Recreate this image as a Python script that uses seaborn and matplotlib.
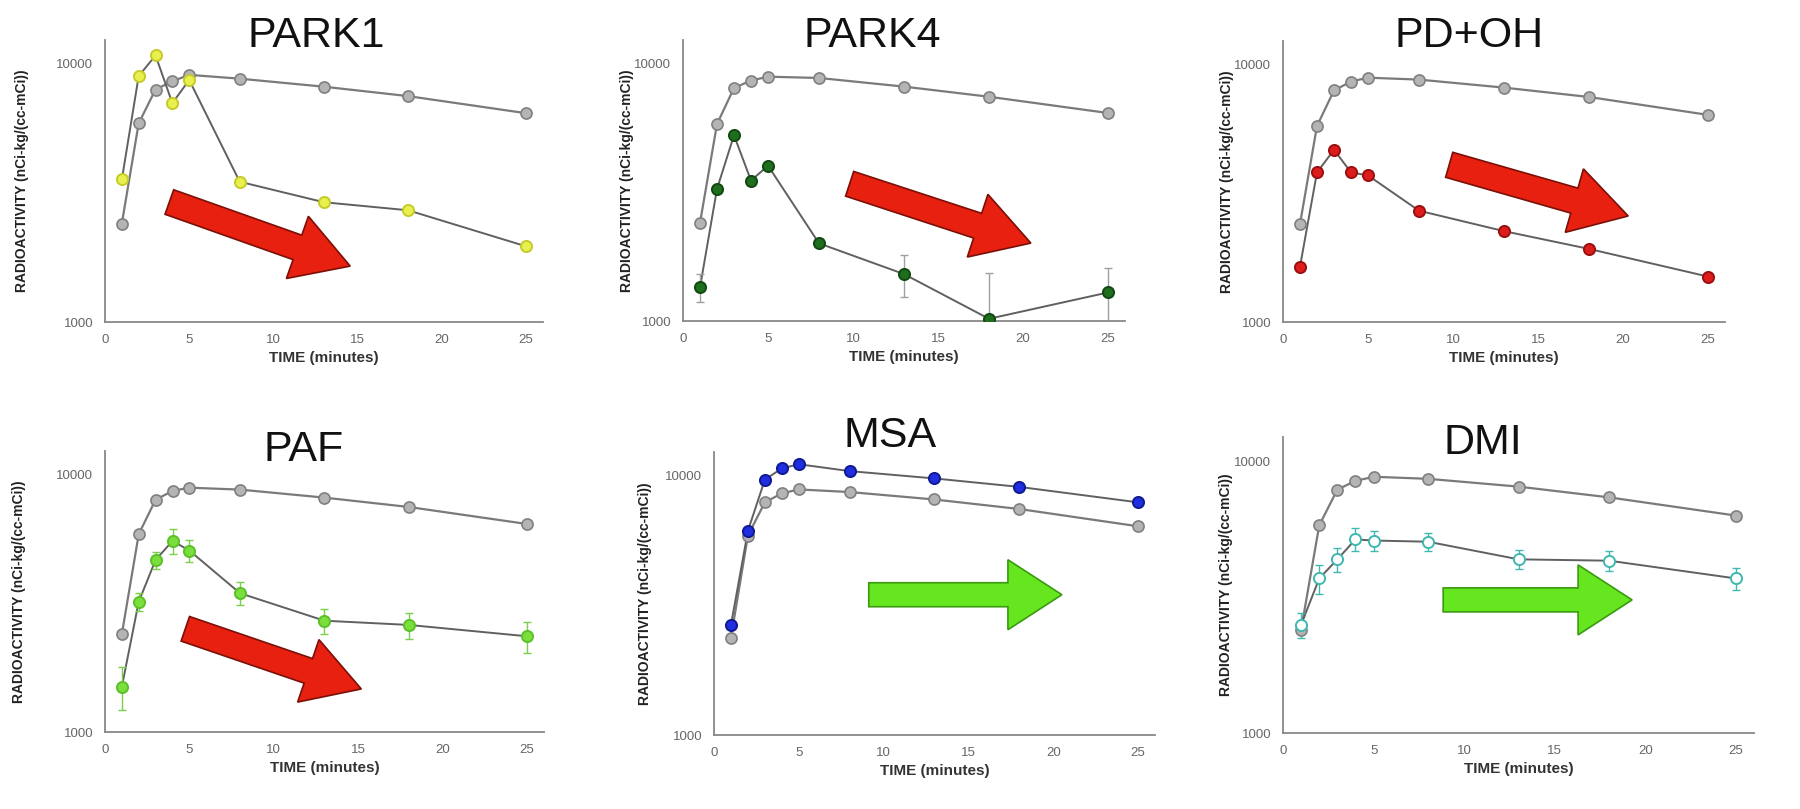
import matplotlib
matplotlib.use("Agg")
import matplotlib.pyplot as plt
import matplotlib.ticker as mticker
import matplotlib.transforms as mtransforms
from matplotlib.patches import FancyArrow
import pandas as pd
import seaborn as sns

# values (nCi-kg/(cc-mCi))
time_min = [1, 2, 3, 4, 5, 8, 13, 18, 25]

park1_control = [2400, 5850, 7900, 8500, 9000, 8700, 8100, 7450, 6400]
park1_patient = [3550, 8900, 10700, 7000, 8600, 3480, 2900, 2700, 1960]

park4_control = [2400, 5800, 8000, 8550, 8850, 8750, 8100, 7400, 6400]
park4_patient = [1350, 3250, 5250, 3500, 4000, 2000, 1520, 1020, 1290]
park4_err = [170, 0, 0, 0, 0, 0, 280, 520, 320]

pdoh_control = [2400, 5750, 7900, 8550, 8850, 8700, 8100, 7450, 6350]
pdoh_patient = [1640, 3800, 4650, 3800, 3700, 2700, 2250, 1920, 1500]

paf_control = [2400, 5850, 7950, 8600, 8850, 8700, 8100, 7450, 6400]
paf_patient = [1500, 3200, 4650, 5500, 5050, 3450, 2700, 2600, 2350]
paf_err = [280, 250, 350, 600, 500, 350, 300, 300, 330]

msa_control = [2370, 5850, 7850, 8500, 8800, 8600, 8050, 7400, 6350]
msa_patient = [2650, 6100, 9600, 10600, 11000, 10350, 9700, 9000, 7850]

dmi_control = [2400, 5800, 7850, 8450, 8750, 8600, 8050, 7350, 6300]
dmi_patient = [2500, 3700, 4350, 5150, 5100, 5050, 4350, 4300, 3700]
dmi_err = [260, 450, 450, 500, 450, 400, 350, 350, 350]

titles = ["PARK1", "PARK4", "PD+OH", "PAF", "MSA", "DMI"]

W, H = 1800, 809
fig = plt.figure(figsize=(W / 100, H / 100), dpi=100)
sns.set_theme(style="white")
plt.rcParams["font.family"] = ["Liberation Sans", "DejaVu Sans"]

Y_TOP = 12300
RED = ("#e8200f", "#7a1008")
GREEN = ("#66e61f", "#3a9a10")
RED_SIZE = (26, 66, 56)     # shaft, head width, head length (px)
GREEN_SIZE = (24, 70, 54)

# (px of x=0, px of x=25, x-axis px from top, px per decade), title px,
# y-label offset px, arrow tail/tip in axes fraction
panels = [
    dict(rect=(105, 526, 322, 259), tpos=(316, 36), ylab=76,
         control=park1_control, patient=park1_patient, err=None,
         face="#e8f050", edge="#c5cc2a", ecol=None,
         arrow=((0.147, 0.425), (0.56, 0.198)), acol=RED, aw=RED_SIZE),
    dict(rect=(683, 1108, 321, 258), tpos=(872, 36), ylab=49,
         control=park4_control, patient=park4_patient, err=park4_err,
         face="#1e6e1e", edge="#124812", ecol="#a0a0a0",
         arrow=((0.377, 0.488), (0.787, 0.277)), acol=RED, aw=RED_SIZE),
    dict(rect=(1283, 1708, 322, 258), tpos=(1469, 36), ylab=49,
         control=pdoh_control, patient=pdoh_patient, err=None,
         face="#dd1c1c", edge="#9a1010", ecol=None,
         arrow=((0.376, 0.559), (0.781, 0.377)), acol=RED, aw=RED_SIZE),
    dict(rect=(105, 527, 732, 258), tpos=(304, 450), ylab=79,
         control=paf_control, patient=paf_patient, err=paf_err,
         face="#7ade3c", edge="#5cc02a", ecol="#7ad04a",
         arrow=((0.183, 0.367), (0.584, 0.153)), acol=RED, aw=RED_SIZE),
    dict(rect=(714, 1138, 735, 260), tpos=(890, 436), ylab=62,
         control=msa_control, patient=msa_patient, err=None,
         face="#1f2fe0", edge="#101a90", ecol=None,
         arrow=((0.351, 0.495), (0.789, 0.495)), acol=GREEN, aw=GREEN_SIZE),
    dict(rect=(1283, 1736, 733, 272), tpos=(1483, 443), ylab=50,
         control=dmi_control, patient=dmi_patient, err=dmi_err,
         face="white", edge="#3fb8b0", ecol="#3fb8b0",
         arrow=((0.34, 0.449), (0.741, 0.449)), acol=GREEN, aw=GREEN_SIZE),
]

for title, p in zip(titles, panels):
    x0_px, x25_px, base, decade = p["rect"]
    width = (x25_px - x0_px) * 26 / 25
    height = decade * 1.0899
    ax = fig.add_axes([x0_px / W, (H - base) / H, width / W, height / H])

    df = pd.DataFrame({"time": time_min, "control": p["control"],
                       "patient": p["patient"]})

    sns.lineplot(data=df, x="time", y="control", color="#7a7a7a",
                 linewidth=1.6, ax=ax)
    sns.scatterplot(data=df, x="time", y="control", color="#b4b4b4",
                    edgecolor="#808080", linewidth=1.2, s=64, ax=ax, zorder=3)
    sns.lineplot(data=df, x="time", y="patient", color="#606060",
                 linewidth=1.4, ax=ax)
    if p["err"] is not None:
        ax.errorbar(time_min, p["patient"], yerr=p["err"], fmt="none",
                    ecolor=p["ecol"], elinewidth=1, capsize=3, zorder=2)
    sns.scatterplot(data=df, x="time", y="patient", color=p["face"],
                    edgecolor=p["edge"], linewidth=1.4, s=64, ax=ax, zorder=4)

    ax.set_yscale("log")
    ax.set_xlim(0, 26)
    ax.set_ylim(1000, Y_TOP)
    ax.set_xticks([0, 5, 10, 15, 20, 25])
    ax.xaxis.set_minor_locator(mticker.MultipleLocator(1))
    ax.set_yticks([1000, 10000])
    ax.set_yticklabels(["1000", "10000"])
    ax.yaxis.set_minor_locator(mticker.LogLocator(subs=range(2, 10)))
    ax.yaxis.set_minor_formatter(mticker.NullFormatter())
    ax.tick_params(which="major", direction="inout", length=7, width=1,
                   color="#888888", labelsize=9.5, labelcolor="#666666", pad=5)
    ax.tick_params(which="minor", direction="inout", length=4, width=1,
                   color="#999999")
    for s in ["top", "right"]:
        ax.spines[s].set_visible(False)
    for s in ["left", "bottom"]:
        ax.spines[s].set_color("#888888")
        ax.spines[s].set_linewidth(1.3)

    ax.set_xlabel("TIME (minutes)", fontsize=11, fontweight="bold",
                  color="#333333")
    ax.set_ylabel("RADIOACTIVITY (nCi-kg/(cc-mCi))", fontsize=10,
                  fontweight="bold", color="#222222")
    ax.xaxis.set_label_coords(0.5, -29 / height)
    ax.yaxis.set_label_coords(-p["ylab"] / width, 0.5)

    fig.text(p["tpos"][0] / W, 1 - p["tpos"][1] / H, title, ha="center",
             va="center", fontsize=31, color="#111111")

    # big trend arrow drawn in pixel units
    (ax0, ay0), (ax1, ay1) = p["arrow"]
    tail = ax.transAxes.transform((ax0, ay0))
    tip = ax.transAxes.transform((ax1, ay1))
    sw, hw, hl = p["aw"]
    arr = FancyArrow(tail[0], tail[1], tip[0] - tail[0], tip[1] - tail[1],
                     width=sw, head_width=hw, head_length=hl,
                     length_includes_head=True, facecolor=p["acol"][0],
                     edgecolor=p["acol"][1], linewidth=1.2,
                     transform=mtransforms.IdentityTransform(), zorder=5)
    fig.add_artist(arr)

fig.savefig("out.png", dpi=100)
